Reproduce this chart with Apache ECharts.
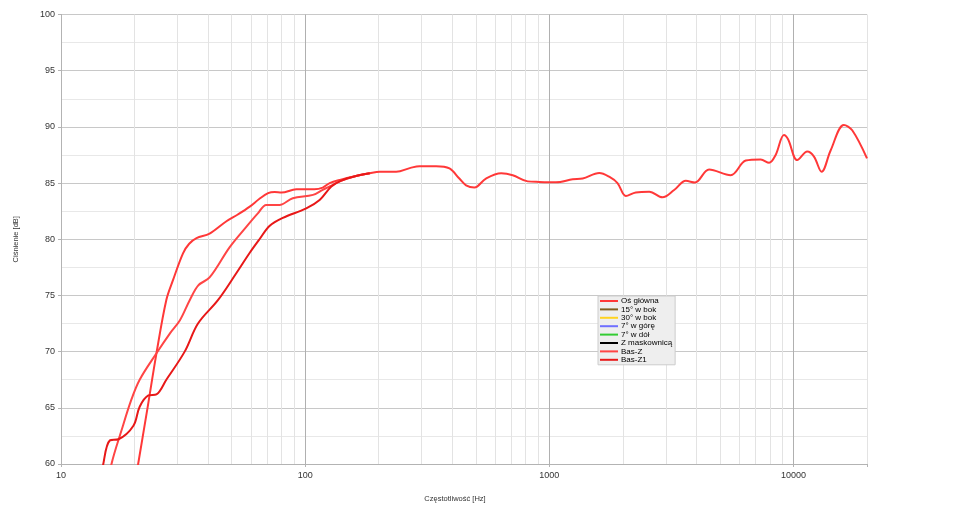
<!DOCTYPE html>
<html>
<head>
<meta charset="utf-8">
<script src="https://cdn.jsdelivr.net/npm/echarts@6/dist/echarts.min.js"></script>
<style>html,body{margin:0;padding:0;background:#fff;}#c{width:970px;height:511px;}</style>
</head>
<body>
<div id="c"></div>
<script>
// ---- data ----
const seriesNames = ['Oś główna', '15° w bok', '30° w bok', '7° w górę', '7° w dół', 'Z maskownicą', 'Bas-Z', 'Bas-Z1'];
const seriesColors = ['#ff3838', '#7f5f1f', '#ffd320', '#6f6fff', '#33cc33', '#000000', '#ff4545', '#e81818'];

const mainFreq = [19.5, 20.7, 22.5, 24.6, 27.0, 28.8, 31.6, 33.5, 35.9, 40.6, 47.6, 53, 59.3, 65, 70.5, 75, 80, 92, 109, 118, 126, 140, 160, 184, 202, 236, 270, 294, 344, 390, 428, 456, 493, 550, 635, 708, 815, 910, 1064, 1246, 1369, 1602, 1758, 1902, 2058, 2260, 2567, 2906, 3245, 3623, 3950, 4510, 5530, 6375, 7340, 7943, 8450, 9140, 9500, 10364, 11390, 12130, 13040, 14190, 16090, 17400, 20000];
const mainDb   = [56.5, 60.0, 64.7, 69.85, 74.6, 76.4, 78.75, 79.6, 80.1, 80.5, 81.6, 82.2, 82.9, 83.6, 84.1, 84.2, 84.15, 84.45, 84.45, 84.6, 85.0, 85.3, 85.6, 85.87, 86.0, 86.0, 86.35, 86.5, 86.5, 86.3, 85.4, 84.8, 84.6, 85.4, 85.87, 85.7, 85.15, 85.1, 85.07, 85.33, 85.4, 85.9, 85.57, 85.0, 83.85, 84.17, 84.23, 83.73, 84.38, 85.2, 85.05, 86.2, 85.7, 87.0, 87.1, 86.8, 87.5, 89.28, 88.9, 87.05, 87.8, 87.35, 86.0, 87.9, 90.17, 89.7, 87.2];

const basZFreq = [15.4, 16.1, 17.7, 19.4, 21.0, 24.6, 27.9, 30.7, 33.7, 36.5, 40.6, 49.1, 57.4, 64, 69.3, 78.4, 89, 107.6, 118, 126, 140, 160, 184];
const basZDb   = [57.5, 60.0, 63.0, 65.7, 67.5, 69.85, 71.6, 72.8, 74.6, 75.9, 76.6, 79.3, 81.1, 82.3, 83.05, 83.05, 83.65, 83.95, 84.4, 84.7, 85.2, 85.6, 85.87];

const basZ1Freq = [14.4, 14.9, 15.86, 17.2, 19.8, 21.0, 22.8, 24.6, 27.0, 32.1, 36.4, 44, 52.3, 59.3, 65, 71.6, 81, 101, 114.6, 128, 140, 160, 184];
const basZ1Db   = [57.5, 60.0, 62.1, 62.2, 63.4, 65.1, 66.1, 66.2, 67.5, 70.0, 72.5, 74.6, 77.0, 78.8, 80.0, 81.2, 81.9, 82.75, 83.5, 84.7, 85.2, 85.6, 85.87];

const xTickLabels = ['10', '100', '1000', '10000'];
const yTickLabels = ['60', '65', '70', '75', '80', '85', '90', '95', '100'];

// ---- helpers ----
function pairs(fs, ds) { return fs.map((f, i) => [f, ds[i]]); }
const dataBySeries = {
  'Oś główna': pairs(mainFreq, mainDb),
  'Bas-Z': pairs(basZFreq, basZDb),
  'Bas-Z1': pairs(basZ1Freq, basZ1Db)
};

// minor vertical grid (2..9 per decade)
const minorLines = [];
[10, 100, 1000, 10000].forEach(d => {
  for (let k = 2; k <= 9; k++) {
    const f = k * d;
    if (f < 20000) minorLines.push({ xAxis: f });
  }
});

const FONT = '"Liberation Sans", Arial, sans-serif';
const series = seriesNames.map((n, i) => ({
  name: n,
  type: 'line',
  data: dataBySeries[n] || [],
  showSymbol: false,
  symbol: 'none',
  smooth: 0.35,
  clip: true,
  z: 5 + i,
  lineStyle: { color: seriesColors[i], width: 2 },
  itemStyle: { color: seriesColors[i] }
}));
series.unshift({
  name: '__grid',
  type: 'line',
  data: [],
  silent: true,
  z: 0,
  markLine: {
    silent: true,
    z: 0,
    symbol: 'none',
    label: { show: false },
    emphasis: { disabled: true },
    lineStyle: { color: '#e3e3e3', width: 1, type: 'solid' },
    data: minorLines,
    animation: false
  }
});

const chart = echarts.init(document.getElementById('c'), null, { renderer: 'canvas' });
chart.setOption({
  animation: false,
  backgroundColor: '#ffffff',
  grid: { left: 61, right: 103, top: 14.5, bottom: 47, containLabel: false },
  legend: {
    data: seriesNames,
    orient: 'vertical',
    left: 598,
    top: 296,
    icon: 'rect',
    itemWidth: 18,
    itemHeight: 2,
    itemGap: 0.4,
    padding: [1, 3, 1, 2],
    backgroundColor: '#eeeeee',
    borderColor: '#cccccc',
    borderWidth: 1,
    borderRadius: 0,
    selectedMode: false,
    textStyle: { fontFamily: FONT, fontSize: 8, color: '#000', lineHeight: 8, padding: [0, 0, 0, -2] }
  },
  xAxis: {
    type: 'log',
    logBase: 10,
    min: 10,
    max: 20000,
    name: 'Częstotliwość [Hz]',
    nameLocation: 'middle',
    nameGap: 31,
    nameTextStyle: { fontFamily: FONT, fontSize: 7.5, color: '#333', padding: [0, 18, 0, 0] },
    axisLine: { show: true, lineStyle: { color: '#b3b3b3', width: 1 } },
    axisTick: { show: true, length: 3, lineStyle: { color: '#b3b3b3' } },
    axisLabel: {
      fontFamily: FONT, fontSize: 9, color: '#333', margin: 7,
      formatter: v => { const s = String(Math.round(v)); return xTickLabels.includes(s) ? s : ''; }
    },
    splitLine: { show: true, lineStyle: { color: ['#b0b0b0', '#b0b0b0', '#b0b0b0', '#b0b0b0', '#e3e3e3'], width: 1 } },
    minorTick: { show: false },
    minorSplitLine: { show: false }
  },
  yAxis: {
    type: 'value',
    min: 60,
    max: 100,
    interval: 5,
    name: 'Ciśnienie [dB]',
    nameLocation: 'middle',
    nameGap: 41,
    nameRotate: 90,
    nameTextStyle: { fontFamily: FONT, fontSize: 7.5, color: '#333' },
    axisLine: { show: true, lineStyle: { color: '#b3b3b3', width: 1 } },
    axisTick: { show: true, length: 3, lineStyle: { color: '#b3b3b3' } },
    axisLabel: {
      fontFamily: FONT, fontSize: 9, color: '#333', margin: 6,
      formatter: v => { const s = String(v); return yTickLabels.includes(s) ? s : ''; }
    },
    splitLine: { show: true, lineStyle: { color: '#c8c8c8', width: 1 } },
    minorTick: { show: false, splitNumber: 2 },
    minorSplitLine: { show: true, lineStyle: { color: '#e8e8e8', width: 1 } }
  },
  series: series
});
</script>
</body>
</html>
